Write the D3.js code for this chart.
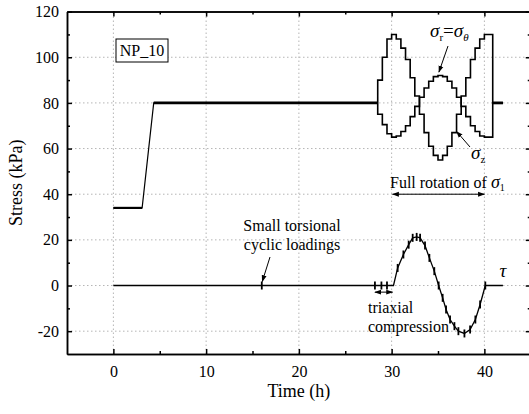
<!DOCTYPE html>
<html>
<head>
<meta charset="utf-8">
<script src="https://cdn.jsdelivr.net/npm/d3@7"></script>
<style>
  body { margin: 0; background: #fff; }
  svg { display: block; }
  text { font-family: "Liberation Serif", "Times New Roman", "DejaVu Serif", serif !important; fill: #000; }
</style>
</head>
<body>
<svg id="chart" width="529" height="414"></svg>
<script>
// stress path before the rotation (same for both components)
const baseT = [0, 3.1, 4.35, 28.5];
const baseV = [34, 34, 80, 80];

// rotation of the principal stress, stepwise (value held until next time)
const rotT = [28.5, 28.5, 29.0, 29.5, 30.0, 30.5, 31.0, 31.5, 32.0, 32.5, 33.0, 33.5, 34.0, 34.5,
              35.0, 35.5, 36.0, 36.5, 37.0, 37.5, 38.0, 38.5, 39.0, 39.5, 40.0, 40.9, 42.0];
const sigmaZ = [80, 90, 100, 108, 110, 108, 104, 99, 91, 83, 75, 67, 61, 57,
                55, 57, 61, 67, 75, 83, 91, 99, 104, 108, 110, 80, 80];
const sigmaR = [80, 75, 70.5, 66.5, 65, 65.5, 67.5, 70, 74, 78.5, 82.5, 86.5, 89.5, 91.5,
                92, 91.5, 89.5, 86.5, 82.5, 78.5, 74, 70, 67.5, 65.5, 65, 80, 80];

// shear stress tau
const tauT = [0, 30.2, 30.65, 31.27, 31.84, 32.27, 32.7, 33.07, 33.6, 34.07, 34.6, 35.07, 35.5,
              35.87, 36.3, 36.77, 37.2, 37.85, 38.46, 39.03, 39.54, 40.1, 42.0];
const tauV = [0, 0, 7.7, 13.6, 17.9, 20.9, 21.3, 20.9, 17.5, 12.1, 6.3, 0, -5.4,
              -10.5, -14.9, -17.8, -20, -21, -19.3, -14.9, -8.3, 0, 0];
const cyclicT = [16.0];
const triaxialT = [28.2, 28.9, 29.5];

const xTicks = [0, 10, 20, 30, 40];
const xMinor = [5, 15, 25, 35];
const yTicks = [-20, 0, 20, 40, 60, 80, 100, 120];
const yMinor = [-10, 10, 30, 50, 70, 90, 110];

const svg = d3.select('#chart');
const x = d3.scaleLinear().domain([-5, 45]).range([67, 530.75]);
const y = d3.scaleLinear().domain([-30, 120]).range([354, 11.6]);

svg.append('rect').attr('width', 529).attr('height', 414).attr('fill', '#fff');

// grid
const grid = svg.append('g').attr('stroke', '#b5b5b5').attr('stroke-width', 1).attr('stroke-dasharray', '1.5,2.5');
grid.selectAll('.gx').data(xTicks).enter().append('line')
    .attr('x1', d => x(d)).attr('x2', d => x(d)).attr('y1', y(-30)).attr('y2', y(120));
grid.selectAll('.gy').data(yTicks.filter(d => d < 120)).enter().append('line')
    .attr('y1', d => y(d)).attr('y2', d => y(d)).attr('x1', x(-5)).attr('x2', x(45));

// axes
function styleAxis(g) {
    g.selectAll('path,line').attr('stroke', '#000').attr('stroke-width', 1.5);
    g.selectAll('text').attr('font-size', 16);
}
const plain = d => String(d);
const yBottom = y(-30), yTop = y(120);
svg.append('g').attr('transform', `translate(0,${yBottom})`)
    .call(d3.axisBottom(x).tickValues(xTicks).tickSize(-5).tickSizeOuter(0).tickPadding(11.5).tickFormat(plain))
    .call(styleAxis);
svg.append('g').attr('transform', `translate(0,${yBottom})`)
    .call(d3.axisBottom(x).tickValues(xMinor).tickSize(-3).tickFormat('').tickSizeOuter(0))
    .call(styleAxis);
svg.append('g').attr('transform', `translate(0,${yTop})`)
    .call(d3.axisTop(x).tickValues(xTicks).tickSize(-5).tickFormat('').tickSizeOuter(0))
    .call(styleAxis);
svg.append('g').attr('transform', `translate(0,${yTop})`)
    .call(d3.axisTop(x).tickValues(xMinor).tickSize(-3).tickFormat('').tickSizeOuter(0))
    .call(styleAxis);
svg.append('g').attr('transform', `translate(${x(-5)},0)`)
    .call(d3.axisLeft(y).tickValues(yTicks).tickSize(-5).tickSizeOuter(0).tickPadding(8).tickFormat(plain))
    .call(styleAxis);
svg.append('g').attr('transform', `translate(${x(-5)},0)`)
    .call(d3.axisLeft(y).tickValues(yMinor).tickSize(-3).tickFormat('').tickSizeOuter(0))
    .call(styleAxis);
svg.append('g').attr('transform', `translate(${x(45)},0)`)
    .call(d3.axisRight(y).tickValues(yTicks).tickSize(-5).tickFormat('').tickSizeOuter(0))
    .call(styleAxis);
svg.append('g').attr('transform', `translate(${x(45)},0)`)
    .call(d3.axisRight(y).tickValues(yMinor).tickSize(-3).tickFormat('').tickSizeOuter(0))
    .call(styleAxis);

// axis titles
svg.append('text').attr('x', x(20)).attr('y', 397).attr('text-anchor', 'middle')
    .attr('font-size', 18).text('Time (h)');
svg.append('text').attr('transform', `translate(22,${y(45)}) rotate(-90)`).attr('text-anchor', 'middle')
    .attr('font-size', 18).text('Stress (kPa)');

// data lines
const lineLin = d3.line().x(d => x(d[0])).y(d => y(d[1]));
const lineStep = d3.line().x(d => x(d[0])).y(d => y(d[1])).curve(d3.curveStepAfter);

const basePts = baseT.map((t, i) => [t, baseV[i]]);
svg.append('path').datum(basePts).attr('d', lineLin)
    .attr('fill', 'none').attr('stroke', '#000').attr('stroke-width', 1.2);
// thick plateaus
svg.append('path').datum(basePts.slice(0, 2)).attr('d', lineLin)
    .attr('fill', 'none').attr('stroke', '#000').attr('stroke-width', 2.2);
svg.append('path').datum(basePts.slice(2)).attr('d', lineLin)
    .attr('fill', 'none').attr('stroke', '#000').attr('stroke-width', 2.8);
svg.append('path').datum([[rotT[25], sigmaZ[25]], [rotT[26], sigmaZ[26]]]).attr('d', lineLin)
    .attr('fill', 'none').attr('stroke', '#000').attr('stroke-width', 2.8);

[sigmaZ, sigmaR].forEach(vals => {
    svg.append('path').datum(rotT.map((t, i) => [t, vals[i]])).attr('d', lineStep)
        .attr('fill', 'none').attr('stroke', '#000').attr('stroke-width', 1.6);
});

// tau
svg.append('path').datum(tauT.map((t, i) => [t, tauV[i]])).attr('d', lineLin)
    .attr('fill', 'none').attr('stroke', '#000').attr('stroke-width', 1.3);
const markPts = cyclicT.map(t => [t, 0])
    .concat(triaxialT.map(t => [t, 0]))
    .concat(tauT.slice(2, 22).map((t, i) => [t, tauV[i + 2]]));
svg.append('g').selectAll('line').data(markPts).enter().append('line')
    .attr('x1', d => x(d[0])).attr('x2', d => x(d[0]))
    .attr('y1', d => y(d[1]) - 4).attr('y2', d => y(d[1]) + 4)
    .attr('stroke', '#000').attr('stroke-width', 1.8);

// arrow markers
const defs = svg.append('defs');
defs.append('marker').attr('id', 'ah').attr('viewBox', '0 0 10 10').attr('refX', 9).attr('refY', 5)
    .attr('markerWidth', 7).attr('markerHeight', 7).attr('orient', 'auto-start-reverse')
    .attr('markerUnits', 'userSpaceOnUse')
    .append('path').attr('d', 'M0,1.5L10,5L0,8.5Z').attr('fill', '#000');

function arrow(x1, y1, x2, y2, both) {
    const l = svg.append('line').attr('x1', x1).attr('y1', y1).attr('x2', x2).attr('y2', y2)
        .attr('stroke', '#000').attr('stroke-width', 1).attr('marker-end', 'url(#ah)');
    if (both) l.attr('marker-start', 'url(#ah)');
}

// NP_10 box
svg.append('rect').attr('x', 116).attr('y', 39).attr('width', 52).attr('height', 23)
    .attr('fill', '#fff').attr('stroke', '#000').attr('stroke-width', 1);
svg.append('text').attr('x', 142).attr('y', 56).attr('text-anchor', 'middle').attr('font-size', 16).text('NP_10');

// sigma_r = sigma_theta
const s1 = svg.append('text').attr('x', 430).attr('y', 37).attr('font-size', 19);
s1.append('tspan').attr('font-style', 'italic').text('σ');
s1.append('tspan').attr('font-size', 11).attr('dy', 4).text('r');
s1.append('tspan').attr('dy', -4).text('=');
s1.append('tspan').attr('font-style', 'italic').text('σ');
s1.append('tspan').attr('font-size', 11).attr('font-style', 'italic').attr('dy', 4).text('θ');
arrow(448, 46, x(35.1), y(93.5));

// sigma_z
const s2 = svg.append('text').attr('x', 471).attr('y', 159).attr('font-size', 19);
s2.append('tspan').attr('font-style', 'italic').text('σ');
s2.append('tspan').attr('font-size', 11).attr('dy', 4).text('z');
arrow(470, 147, x(37.0), y(67.5));

// full rotation
const s3 = svg.append('text').attr('x', 390).attr('y', 188).attr('font-size', 16);
s3.append('tspan').text('Full rotation of ');
s3.append('tspan').attr('font-style', 'italic').attr('font-size', 18).text('σ');
s3.append('tspan').attr('font-size', 10).attr('dy', 3).text('1');
arrow(x(30.1), y(40), x(40.0), y(40), true);

// small torsional cyclic loadings
svg.append('text').attr('x', 292).attr('y', 231).attr('text-anchor', 'middle').attr('font-size', 16).text('Small torsional');
svg.append('text').attr('x', 292).attr('y', 250).attr('text-anchor', 'middle').attr('font-size', 16).text('cyclic loadings');
arrow(270, 257, x(16.0) + 0.5, y(0) - 4);

// triaxial compression
arrow(x(28.2), y(-2.9), x(30.1), y(-2.9), true);
svg.append('text').attr('x', 368).attr('y', 313).attr('font-size', 16).text('triaxial');
svg.append('text').attr('x', 368).attr('y', 332).attr('font-size', 16).text('compression');

// tau label
svg.append('text').attr('x', 503).attr('y', 277).attr('text-anchor', 'middle')
    .attr('font-size', 19).attr('font-style', 'italic').text('τ');
</script>
</body>
</html>
